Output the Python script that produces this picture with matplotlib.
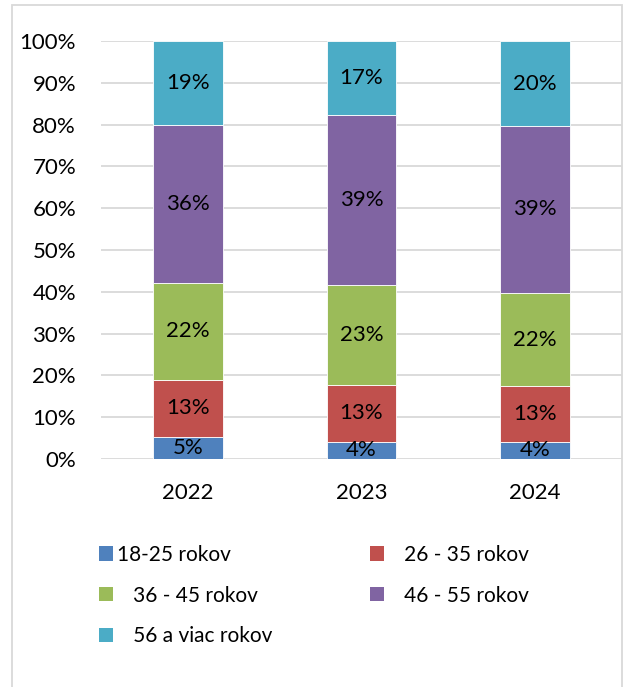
import numpy as np
import matplotlib.pyplot as plt
from matplotlib.patches import Rectangle, Patch

plt.rcParams['font.family'] = ['Lato', 'DejaVu Sans']

years = ['2022', '2023', '2024']
groups = ['18-25 rokov', '26 - 35 rokov', '36 - 45 rokov', '46 - 55 rokov', '56 a viac rokov']
legend_labels = ['18-25 rokov', '   26 - 35 rokov', '   36 - 45 rokov', '   46 - 55 rokov', '   56 a viac rokov']
colors = ['#4F81BD', '#C0504D', '#9BBB59', '#8064A2', '#4BACC6']

# shares per group (rows) for each year (columns), in %
vals = np.array([
    [5, 4, 4],
    [13, 13, 13],
    [22, 23, 22],
    [36, 39, 39],
    [19, 17, 20],
], dtype=float)

shares = vals / vals.sum(axis=0) * 100

fig = plt.figure(figsize=(6.25, 6.87), dpi=100)
ax = fig.add_axes([101 / 625, 1 - 459 / 687, 521 / 625, 418 / 687])

x = np.arange(len(years))
bottom = np.zeros(len(years))
for i in range(len(groups)):
    ax.bar(x, shares[i], 0.4, bottom=bottom, color=colors[i],
           edgecolor='white', linewidth=0.6, zorder=3)
    for j in range(len(years)):
        ax.text(x[j], bottom[j] + shares[i][j] / 2, f'{int(vals[i][j])}%',
                ha='center', va='center', fontsize=16, color='black', zorder=4)
    bottom += shares[i]

ax.set_xlim(-0.5, 2.5)
ax.set_ylim(0, 100)
ax.set_yticks(np.arange(0, 101, 10))
ax.set_yticklabels([f'{v}%' for v in range(0, 101, 10)])
ax.set_xticks(x)
ax.set_xticklabels(years)
ax.tick_params(axis='y', length=0, pad=18, labelsize=16)
ax.tick_params(axis='x', length=0, pad=17, labelsize=16)
ax.yaxis.grid(True, color='#d9d9d9', linewidth=1.3, zorder=0)
for s in ax.spines.values():
    s.set_visible(False)

# legend in row-major order
handles = [Patch(facecolor=c) for c in colors]
order = [0, 2, 4, 1, 3]
fig.legend([handles[k] for k in order], [legend_labels[k] for k in order],
           ncol=2, loc='upper left', bbox_to_anchor=(80 / 625, 1 - 526 / 687),
           frameon=False, fontsize=15, handlelength=0.67, handleheight=0.67,
           handletextpad=0.2, labelspacing=1.0, columnspacing=4.7)

fig.patches.append(Rectangle((12 / 625, -0.01), 610 / 625, 1 - 5 / 687 + 0.01,
                             transform=fig.transFigure, fill=False,
                             edgecolor='#d9d9d9', linewidth=1.3))

fig.savefig('out.png', dpi=100)
